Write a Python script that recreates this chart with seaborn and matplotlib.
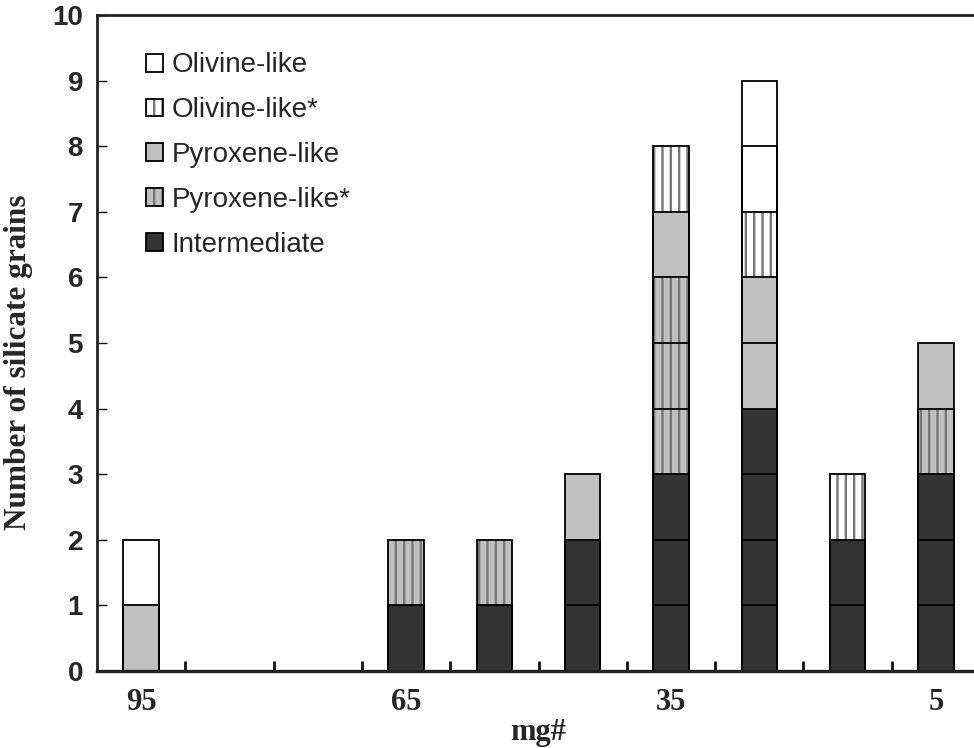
import numpy as np
import pandas as pd
import matplotlib
matplotlib.use('Agg')
import matplotlib.pyplot as plt
from matplotlib.patches import Patch
import seaborn as sns

# mg# classes along the x axis (left = Mg-rich)
mg_values = ['95', '85', '75', '65', '55', '45', '35', '25', '15', '5']
shown_ticks = ['95', '65', '35', '5']

# grains per class in each mg# bin, stacking order is bottom -> top
intermediate = [0, 0, 0, 1, 1, 2, 3, 4, 2, 3]
pyroxene_star = [0, 0, 0, 1, 1, 0, 3, 0, 0, 1]
pyroxene = [1, 0, 0, 0, 0, 1, 1, 2, 0, 1]
olivine_star = [0, 0, 0, 0, 0, 0, 1, 1, 1, 0]
olivine = [1, 0, 0, 0, 0, 0, 0, 2, 0, 0]

classes = ['Intermediate', 'Pyroxene-like*', 'Pyroxene-like', 'Olivine-like*', 'Olivine-like']
counts = [intermediate, pyroxene_star, pyroxene, olivine_star, olivine]

face = {'Intermediate': '#333333', 'Pyroxene-like*': '#c0c0c0', 'Pyroxene-like': '#c0c0c0',
        'Olivine-like*': '#ffffff', 'Olivine-like': '#ffffff'}
hatches = {'Intermediate': None, 'Pyroxene-like*': '||', 'Pyroxene-like': None,
           'Olivine-like*': '||', 'Olivine-like': None}
HATCH_GREY = '#777777'

# one row per grain, so every grain gets its own box in the stack
rows = []
for i, mg in enumerate(mg_values):
    level = 0
    for cls, vals in zip(classes, counts):
        for _ in range(vals[i]):
            level += 1
            rows.append({'mg': mg, 'level': level, 'cls': cls})
grains = pd.DataFrame(rows)

sns.set_style('ticks')
plt.rcParams['hatch.linewidth'] = 1.7

fig = plt.figure(figsize=(9.74, 7.48), dpi=100)
ax = fig.add_axes([97 / 974, 77 / 748, 883 / 974, 656 / 748])

top = grains['level'].max()
# fills: tallest first, lower grains painted over them
for lvl in range(top, 0, -1):
    for cls in classes:
        sub = grains[(grains['level'] == lvl) & (grains['cls'] == cls)]
        if sub.empty:
            continue
        sns.barplot(data=sub, x='mg', y='level', order=mg_values, color=face[cls],
                    saturation=1, width=0.4, errorbar=None, hatch=hatches[cls],
                    edgecolor=HATCH_GREY if hatches[cls] else face[cls],
                    linewidth=0, ax=ax)
# black outline around every grain box
for lvl in range(1, top + 1):
    sub = grains[grains['level'] == lvl]
    sns.barplot(data=sub, x='mg', y='level', order=mg_values, color='black',
                fill=False, width=0.4, errorbar=None, linewidth=1.3, ax=ax)

ax.set_xlim(-0.5, len(mg_values) - 0.5)
ax.set_ylim(0, 10)
ax.set_yticks(range(0, 11))
ax.set_xticks([mg_values.index(t) for t in shown_ticks], shown_ticks)
ax.set_xticks(np.arange(0.5, len(mg_values) - 1, 1), minor=True)
ax.tick_params(axis='x', which='major', length=0, pad=12)
ax.tick_params(axis='x', which='minor', direction='in', length=7, width=2, color='#111111')
ax.tick_params(axis='y', direction='in', length=7, width=1, pad=10, color='#111111')

for lab in ax.get_xticklabels():
    lab.set_fontfamily('Liberation Serif')
    lab.set_fontweight('bold')
    lab.set_fontsize(22)
for lab in ax.get_yticklabels():
    lab.set_fontfamily('Liberation Sans')
    lab.set_fontweight('bold')
    lab.set_fontsize(20)

for side in ['left', 'bottom', 'top', 'right']:
    ax.spines[side].set_color('#222222')
ax.spines['left'].set_linewidth(2)
ax.spines['top'].set_linewidth(2)
ax.spines['bottom'].set_linewidth(2.4)

ax.set_xlabel('mg#', fontfamily='Liberation Serif', fontweight='bold', fontsize=22, labelpad=1)
ax.set_ylabel('Number of silicate grains', fontfamily='Liberation Serif',
              fontweight='bold', fontsize=22.5)
ax.yaxis.set_label_coords(-0.072, 0.47)

handles = []
for cls in reversed(classes):
    fill = Patch(facecolor=face[cls], hatch=hatches[cls],
                 edgecolor=HATCH_GREY if hatches[cls] else face[cls], linewidth=0)
    edge = Patch(fill=False, edgecolor='black', linewidth=1.3)
    handles.append((fill, edge))
ax.legend(handles, list(reversed(classes)), loc='upper left',
          bbox_to_anchor=(0.0555, 0.943), frameon=False,
          prop={'family': 'Liberation Sans', 'size': 20},
          handlelength=0.61, handleheight=0.61, handletextpad=0.3,
          labelspacing=0.68, borderpad=0, borderaxespad=0)

fig.savefig('out.png', dpi=100)
